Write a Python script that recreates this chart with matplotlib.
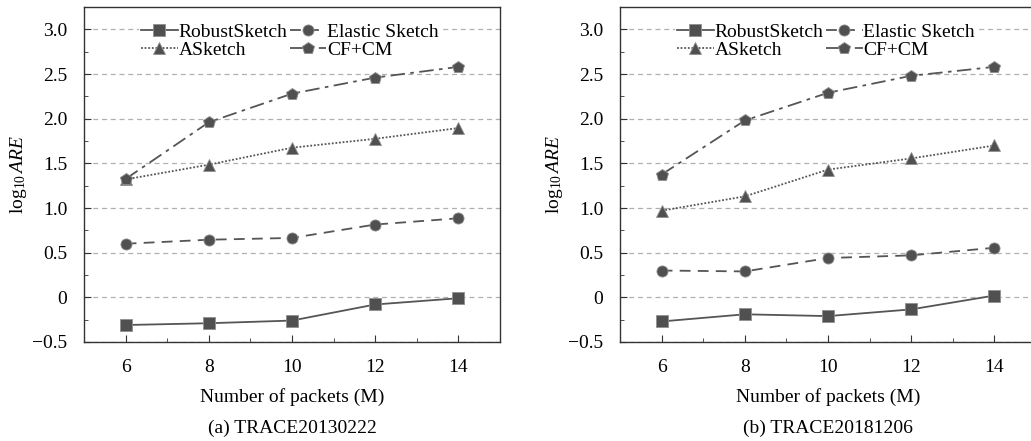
import matplotlib
matplotlib.use("Agg")
import matplotlib.pyplot as plt
from matplotlib.ticker import MultipleLocator

plt.rcParams["font.family"] = ["Liberation Serif", "DejaVu Serif"]
plt.rcParams["mathtext.fontset"] = "custom"
plt.rcParams["mathtext.rm"] = "Liberation Serif"
plt.rcParams["mathtext.it"] = "Liberation Serif:italic"

packets = [6, 8, 10, 12, 14]
methods = ["RobustSketch", "Elastic Sketch", "ASketch", "CF+CM"]

# (a) TRACE20130222
robust_a = [-0.31, -0.29, -0.26, -0.08, -0.01]
elastic_a = [0.60, 0.645, 0.665, 0.815, 0.885]
asketch_a = [1.32, 1.485, 1.675, 1.775, 1.895]
cfcm_a = [1.325, 1.96, 2.28, 2.46, 2.58]

# (b) TRACE20181206
robust_b = [-0.27, -0.19, -0.21, -0.135, 0.02]
elastic_b = [0.30, 0.29, 0.44, 0.47, 0.555]
asketch_b = [0.97, 1.13, 1.43, 1.555, 1.70]
cfcm_b = [1.375, 1.98, 2.29, 2.48, 2.58]

captions = ["(a) TRACE20130222", "(b) TRACE20181206"]

styles = [("s", "-"), ("o", (0, (6, 4))), ("^", (0, (1, 1))), ("p", (0, (8, 3, 2, 3)))]
col = "#555555"

fig = plt.figure(figsize=(10.31, 4.41), dpi=100)
ax1 = fig.add_axes([0.0815, 0.2245, 0.4035, 0.7596])
ax2 = fig.add_axes([0.6014, 0.2245, 0.4035, 0.7596])

for ax, data, cap in [(ax1, [robust_a, elastic_a, asketch_a, cfcm_a], captions[0]),
                      (ax2, [robust_b, elastic_b, asketch_b, cfcm_b], captions[1])]:
    lines = []
    for vals, name, (mk, ls) in zip(data, methods, styles):
        ln, = ax.plot(packets, vals, color=col, linestyle=ls, linewidth=1.3,
                      marker=mk, markersize=8 if mk != "p" else 9,
                      markerfacecolor="#505050", markeredgecolor="#909090",
                      markeredgewidth=0.6, label=name, zorder=3)
        lines.append(ln)
    ax.set_xlim(5, 15)
    ax.set_ylim(-0.5, 3.25)
    ax.xaxis.set_major_locator(MultipleLocator(2))
    ax.xaxis.set_minor_locator(MultipleLocator(1))
    ax.yaxis.set_minor_locator(MultipleLocator(0.25))
    ax.set_yticks([-0.5, 0, 0.5, 1.0, 1.5, 2.0, 2.5, 3.0])
    ax.set_yticklabels(["\u22120.5", "0", "0.5", "1.0", "1.5", "2.0", "2.5", "3.0"])
    ax.tick_params(which="both", direction="in", top=False, right=False,
                   labelsize=14, color="#333333")
    ax.tick_params(which="major", length=5, pad=12)
    ax.tick_params(which="minor", length=3)
    ax.yaxis.grid(True, linestyle=(0, (4, 3)), color="#b0b0b0", linewidth=0.9)
    ax.set_axisbelow(True)
    for s in ax.spines.values():
        s.set_color("#333333")
        s.set_linewidth(1.0)
    ax.set_xlabel("Number of packets (M)", fontsize=14, labelpad=9)
    ax.set_ylabel(r"$\log_{10}\mathit{ARE}$", fontsize=14, labelpad=2)
    ax.text(0.5, -0.232, cap, transform=ax.transAxes, ha="center", va="top",
            fontsize=14)
    # row-wise order: Robust, Elastic / ASketch, CF+CM
    order = [0, 2, 1, 3]
    ax.legend([lines[i] for i in order], [methods[i] for i in order],
              loc="upper center", bbox_to_anchor=(0.495, 1.0), ncol=2,
              fontsize=14, frameon=True, facecolor="white", edgecolor="none",
              framealpha=1, handlelength=1.9, handletextpad=0.05,
              columnspacing=0.1, borderpad=0.1, labelspacing=0.0,
              borderaxespad=0.75)

fig.savefig("out.png", dpi=100)
